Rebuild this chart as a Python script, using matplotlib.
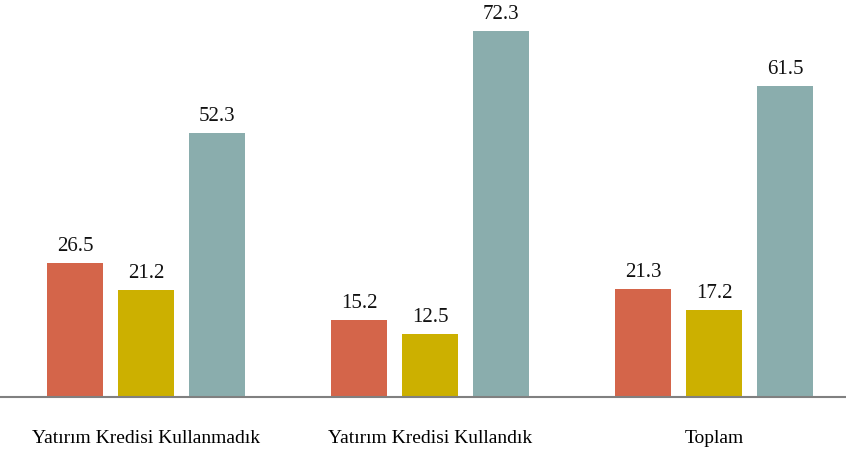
import numpy as np
import matplotlib.pyplot as plt

categories = ["Yatırım Kredisi Kullanmadık", "Yatırım Kredisi Kullandık", "Toplam"]
series_a = [26.5, 15.2, 21.3]
series_b = [21.2, 12.5, 17.2]
series_c = [52.3, 72.3, 61.5]
colors = ["#D4654A", "#CCB000", "#8AADAD"]

plt.rcParams['font.family'] = ['Liberation Serif', 'DejaVu Serif']

fig = plt.figure(figsize=(8.46, 4.57), dpi=100)
ax = fig.add_axes([0, 0.131, 1, 0.869])

x = np.arange(len(categories))
pitch = 0.25
width = 0.197
for i, (vals, c) in enumerate(zip([series_a, series_b, series_c], colors)):
    pos = x + (i - 1) * pitch
    bars = ax.bar(pos, vals, width=width, color=c)
    for p, v in zip(pos, vals):
        ax.annotate(f"{v:.1f}", (p, v), xytext=(0, 5), textcoords="offset points",
                    ha="center", va="bottom", fontsize=15, color="#111111")

ax.set_xlim(-0.514, 2.465)
ax.set_ylim(0, 78.5)
ax.set_yticks([])
ax.set_xticks(x)
ax.set_xticklabels(categories, fontsize=14)
ax.tick_params(axis="x", length=0, pad=24)
for s in ["top", "right", "left"]:
    ax.spines[s].set_visible(False)
ax.spines["bottom"].set_color("#808080")
ax.spines["bottom"].set_linewidth(1.5)

fig.savefig("out.png", dpi=100)
